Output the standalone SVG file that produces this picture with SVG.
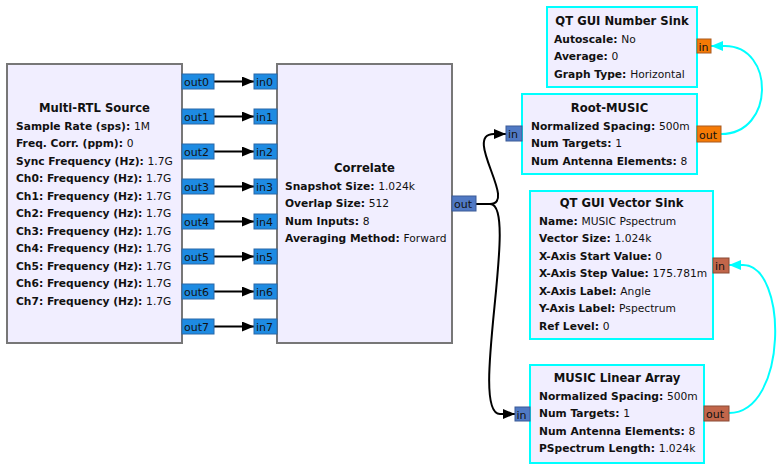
<svg xmlns="http://www.w3.org/2000/svg" width="780" height="467" viewBox="0 0 780 467">
<style>
text{font-family:"DejaVu Sans","Liberation Sans",sans-serif;font-size:10.7px;fill:#111}
.b{font-weight:bold}
.t{font-weight:bold;text-anchor:middle;font-size:11.6px}
.blk{fill:#F1EEFF;stroke:#777;stroke-width:2}
.sel{fill:#F1EEFF;stroke:#00FFFF;stroke-width:2}
.pc{fill:#1E8BE2;stroke:#2A68A8;stroke-width:1}
.pv{fill:#5079C4;stroke:#3A5A96;stroke-width:1}
.po{fill:#F57A05;stroke:#A85A20;stroke-width:1}
.pb{fill:#C2664A;stroke:#8A4A35;stroke-width:1}
.pt{font-size:11px}
.cb{fill:none;stroke:#000;stroke-width:2}
.cc{fill:none;stroke:#00FFFF;stroke-width:2}
</style>
<defs>
<marker id="ab" viewBox="0 0 12 10" refX="12" refY="5" markerWidth="12" markerHeight="10" markerUnits="userSpaceOnUse" orient="auto"><path d="M0,0 L12,5 L0,10 Z" fill="#000"/></marker>
<marker id="ac" viewBox="0 0 12 10" refX="12" refY="5" markerWidth="12" markerHeight="10" markerUnits="userSpaceOnUse" orient="auto"><path d="M0,0 L12,5 L0,10 Z" fill="#00FFFF"/></marker>
</defs>
<rect width="780" height="467" fill="#fff"/>

<g id="connectors">
<path class="cb" d="M214,81.5 H254" marker-end="url(#ab)"/>
<path class="cb" d="M214,116.5 H254" marker-end="url(#ab)"/>
<path class="cb" d="M214,151.5 H254" marker-end="url(#ab)"/>
<path class="cb" d="M214,186.5 H254" marker-end="url(#ab)"/>
<path class="cb" d="M214,221.5 H254" marker-end="url(#ab)"/>
<path class="cb" d="M214,256.5 H254" marker-end="url(#ab)"/>
<path class="cb" d="M214,291.5 H254" marker-end="url(#ab)"/>
<path class="cb" d="M214,326.5 H254" marker-end="url(#ab)"/>
<path class="cb" d="M476,204 H490 C518,204 462,134 494,134 L506,134" marker-end="url(#ab)"/>
<path class="cb" d="M476,204 H490 C520,204 468,414 500,414 L515,414" marker-end="url(#ab)"/>
<path class="cc" d="M721,134 C775,134 775,46 725,46 L711,46" marker-end="url(#ac)"/>
<path class="cc" d="M729,413 C788,413 788,265 743,265 L729,265" marker-end="url(#ac)"/>
</g>

<g id="multi_rtl_source">
<rect class="blk" x="7" y="64" width="175" height="279"/>
<text class="t" x="94.5" y="112">Multi-RTL Source</text>
<text x="16" y="129.5"><tspan class="b">Sample Rate (sps): </tspan>1M</text>
<text x="16" y="147"><tspan class="b">Freq. Corr. (ppm): </tspan>0</text>
<text x="16" y="164.5"><tspan class="b">Sync Frequency (Hz): </tspan>1.7G</text>
<text x="16" y="182"><tspan class="b">Ch0: Frequency (Hz): </tspan>1.7G</text>
<text x="16" y="199.5"><tspan class="b">Ch1: Frequency (Hz): </tspan>1.7G</text>
<text x="16" y="217"><tspan class="b">Ch2: Frequency (Hz): </tspan>1.7G</text>
<text x="16" y="234.5"><tspan class="b">Ch3: Frequency (Hz): </tspan>1.7G</text>
<text x="16" y="252"><tspan class="b">Ch4: Frequency (Hz): </tspan>1.7G</text>
<text x="16" y="269.5"><tspan class="b">Ch5: Frequency (Hz): </tspan>1.7G</text>
<text x="16" y="287"><tspan class="b">Ch6: Frequency (Hz): </tspan>1.7G</text>
<text x="16" y="304.5"><tspan class="b">Ch7: Frequency (Hz): </tspan>1.7G</text>
<rect class="pc" x="182" y="74" width="32" height="15"/><text class="pt" x="184" y="86">out0</text>
<rect class="pc" x="182" y="109" width="32" height="15"/><text class="pt" x="184" y="121">out1</text>
<rect class="pc" x="182" y="144" width="32" height="15"/><text class="pt" x="184" y="156">out2</text>
<rect class="pc" x="182" y="179" width="32" height="15"/><text class="pt" x="184" y="191">out3</text>
<rect class="pc" x="182" y="214" width="32" height="15"/><text class="pt" x="184" y="226">out4</text>
<rect class="pc" x="182" y="249" width="32" height="15"/><text class="pt" x="184" y="261">out5</text>
<rect class="pc" x="182" y="284" width="32" height="15"/><text class="pt" x="184" y="296">out6</text>
<rect class="pc" x="182" y="319" width="32" height="15"/><text class="pt" x="184" y="331">out7</text>
</g>

<g id="correlate">
<rect class="blk" x="277" y="64" width="175" height="279"/>
<text class="t" x="364.5" y="172">Correlate</text>
<text x="285" y="189.5"><tspan class="b">Snapshot Size: </tspan>1.024k</text>
<text x="285" y="207"><tspan class="b">Overlap Size: </tspan>512</text>
<text x="285" y="224.5"><tspan class="b">Num Inputs: </tspan>8</text>
<text x="285" y="242"><tspan class="b">Averaging Method: </tspan>Forward</text>
<rect class="pc" x="254" y="74" width="23" height="15"/><text class="pt" x="256" y="86">in0</text>
<rect class="pc" x="254" y="109" width="23" height="15"/><text class="pt" x="256" y="121">in1</text>
<rect class="pc" x="254" y="144" width="23" height="15"/><text class="pt" x="256" y="156">in2</text>
<rect class="pc" x="254" y="179" width="23" height="15"/><text class="pt" x="256" y="191">in3</text>
<rect class="pc" x="254" y="214" width="23" height="15"/><text class="pt" x="256" y="226">in4</text>
<rect class="pc" x="254" y="249" width="23" height="15"/><text class="pt" x="256" y="261">in5</text>
<rect class="pc" x="254" y="284" width="23" height="15"/><text class="pt" x="256" y="296">in6</text>
<rect class="pc" x="254" y="319" width="23" height="15"/><text class="pt" x="256" y="331">in7</text>
<rect class="pv" x="452" y="196" width="24" height="15"/><text class="pt" x="454" y="208">out</text>
</g>

<g id="qt_gui_number_sink">
<rect class="sel" x="547" y="7" width="150" height="80"/>
<text class="t" x="622" y="25">QT GUI Number Sink</text>
<text x="554" y="42.5"><tspan class="b">Autoscale: </tspan>No</text>
<text x="554" y="60"><tspan class="b">Average: </tspan>0</text>
<text x="554" y="77.5"><tspan class="b">Graph Type: </tspan>Horizontal</text>
<rect class="po" x="697" y="39" width="14" height="14"/><text class="pt" x="698.5" y="50.5">in</text>
</g>

<g id="root_music">
<rect class="sel" x="522" y="94" width="175" height="80"/>
<text class="t" x="609.5" y="112">Root-MUSIC</text>
<text x="531" y="129.5"><tspan class="b">Normalized Spacing: </tspan>500m</text>
<text x="531" y="147"><tspan class="b">Num Targets: </tspan>1</text>
<text x="531" y="164.5"><tspan class="b">Num Antenna Elements: </tspan>8</text>
<rect class="pv" x="506" y="126" width="16" height="15"/><text class="pt" x="508" y="138">in</text>
<rect class="po" x="697" y="126" width="24" height="16"/><text class="pt" x="699" y="138.5">out</text>
</g>

<g id="qt_gui_vector_sink">
<rect class="sel" x="530" y="191" width="183" height="148"/>
<text class="t" x="621.5" y="207">QT GUI Vector Sink</text>
<text x="539" y="224.5"><tspan class="b">Name: </tspan>MUSIC Pspectrum</text>
<text x="539" y="242"><tspan class="b">Vector Size: </tspan>1.024k</text>
<text x="539" y="259.5"><tspan class="b">X-Axis Start Value: </tspan>0</text>
<text x="539" y="277"><tspan class="b">X-Axis Step Value: </tspan>175.781m</text>
<text x="539" y="294.5"><tspan class="b">X-Axis Label: </tspan>Angle</text>
<text x="539" y="312"><tspan class="b">Y-Axis Label: </tspan>Pspectrum</text>
<text x="539" y="329.5"><tspan class="b">Ref Level: </tspan>0</text>
<rect class="pb" x="713" y="258" width="16" height="15"/><text class="pt" x="715" y="270">in</text>
</g>

<g id="music_linear_array">
<rect class="sel" x="530" y="365" width="174" height="98"/>
<text class="t" x="617" y="382">MUSIC Linear Array</text>
<text x="539" y="399.5"><tspan class="b">Normalized Spacing: </tspan>500m</text>
<text x="539" y="417"><tspan class="b">Num Targets: </tspan>1</text>
<text x="539" y="434.5"><tspan class="b">Num Antenna Elements: </tspan>8</text>
<text x="539" y="452"><tspan class="b">PSpectrum Length: </tspan>1.024k</text>
<rect class="pv" x="515" y="407" width="15" height="14"/><text class="pt" x="516.5" y="418.5">in</text>
<rect class="pb" x="704" y="406" width="25" height="15"/><text class="pt" x="706" y="418">out</text>
</g>
</svg>
